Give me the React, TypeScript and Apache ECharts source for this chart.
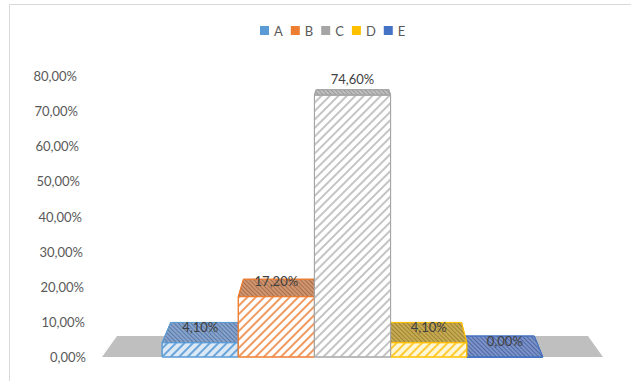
import React, { useEffect, useRef } from "react";
import * as echarts from "echarts";

const categories = ["A", "B", "C", "D", "E"];
const values = [0.041, 0.172, 0.746, 0.041, 0.0];
const yMin = 0;
const yMax = 0.8;
const yInterval = 0.1;

const baseColors = ["#5B9BD5", "#ED7D31", "#A5A5A5", "#FFC000", "#4472C4"];
const frontFills = ["#dbe8f6", "#ffffff", "#ffffff", "#fff6d6", "#ffffff"];
const frontStripes = ["#6aa5da", "#f09a60", "#c4c4c4", "#ffcb33", "#4472C4"];
const topFills = ["#86a3cc", "#d09570", "#c0c0c0", "#c8aa52", "#7b93c9"];
const topStripes = ["#5b7aa6", "#a8704a", "#9a9a9a", "#9c8534", "#4f67a3"];
const seriesZ = [2, 3, 4, 3, 2];

const fmtPct = (v: number) => (v * 100).toFixed(2).replace(".", ",") + "%";

export default function App() {
  const ref = useRef<HTMLDivElement>(null);
  useEffect(() => {
    document.body.style.margin = "0";
    if (!ref.current) return;
    const chart = echarts.init(ref.current, undefined, { renderer: "svg" });
    const N = categories.length;
    const font = "Lato, 'Noto Sans', sans-serif";

    const rich: Record<string, any> = {};
    for (let i = 0; i <= 8; i++) {
      rich["t" + i] = {
        padding: [0, Math.round(i * 1.1), 0, 0],
        fontSize: 13,
        color: "#595959",
        fontFamily: font,
      };
    }

    const geo = (params: any) => {
      const cs = params.coordSys;
      return { vx: cs.x + cs.width / 2, vy: cs.y - 69, kv: 0.06 };
    };

    const barSeries = categories.map((name, i) => ({
      type: "custom",
      name,
      z: seriesZ[i],
      itemStyle: { color: baseColors[i] },
      data: [[0, values[i]]],
      renderItem: (params: any, api: any) => {
        const { vx, vy, kv } = geo(params);
        const kh = 0.045;
        const c0 = api.coord([0, 0]);
        const band = api.size([1, 0])[0];
        const groupW = band * 0.76;
        const barW = groupW / N;
        const x0 = c0[0] - groupW / 2 + i * barW;
        const x1 = x0 + barW;
        const yB = c0[1];
        const yT = api.coord([0, api.value(1)])[1];
        const yBack = yT - kv * (yT - vy);
        const bx0 = x0 + kh * (vx - x0);
        const bx1 = x1 + kh * (vx - x1);
        return {
          type: "group",
          children: [
            {
              type: "rect",
              shape: { x: x0, y: yT, width: barW, height: yB - yT },
              style: {
                fill: frontFills[i],
                stroke: baseColors[i],
                lineWidth: 1,
                decal: {
                  symbol: "rect",
                  symbolSize: 1,
                  dashArrayX: [1, 0],
                  dashArrayY: [1.6, 3.6],
                  rotation: -Math.PI / 4,
                  color: frontStripes[i],
                },
              },
            },
            {
              type: "polygon",
              shape: {
                points: [
                  [x0, yT],
                  [x1, yT],
                  [bx1, yBack],
                  [bx0, yBack],
                ],
              },
              style: {
                fill: topFills[i],
                stroke: baseColors[i],
                lineWidth: 1,
                decal: {
                  symbol: "rect",
                  symbolSize: 1,
                  dashArrayX: [1, 0],
                  dashArrayY: [1, 2],
                  rotation: Math.PI / 4,
                  color: topStripes[i],
                },
              },
            },
            {
              type: "text",
              z2: 100,
              x: (x0 + x1) / 2,
              y: yT - 16,
              style: {
                text: fmtPct(api.value(1)),
                fill: "#404040",
                fontSize: 13,
                fontFamily: font,
                align: "center",
                verticalAlign: "middle",
              },
            },
          ],
        };
      },
    }));

    const floorSeries = {
      type: "custom",
      name: "floor",
      z: 1,
      silent: true,
      data: [[0, 0]],
      renderItem: (params: any, api: any) => {
        const cs = params.coordSys;
        const { vx, vy, kv } = geo(params);
        const kf = 0.06;
        const yB = api.coord([0, 0])[1];
        const xL = cs.x;
        const xR = cs.x + cs.width;
        const yBack = yB - kv * (yB - vy);
        return {
          type: "polygon",
          shape: {
            points: [
              [xL, yB],
              [xR, yB],
              [xR + kf * (vx - xR), yBack],
              [xL + kf * (vx - xL), yBack],
            ],
          },
          style: { fill: "#bfbfbf" },
        };
      },
    };

    chart.setOption({
      animation: false,
      backgroundColor: "#ffffff",
      graphic: [
        {
          type: "rect",
          shape: { x: 9.5, y: 4.5, width: 700, height: 500 },
          style: { fill: "none", stroke: "#d9d9d9", lineWidth: 1 },
          silent: true,
        },
      ],
      legend: {
        data: categories,
        left: 255,
        top: 19,
        icon: "rect",
        itemWidth: 9,
        itemHeight: 9,
        itemGap: 8,
        textStyle: { fontSize: 13, color: "#595959", fontFamily: font },
      },
      grid: { left: 102, right: 28, top: 76, bottom: 24, containLabel: false },
      xAxis: {
        type: "category",
        data: [""],
        show: false,
        boundaryGap: true,
      },
      yAxis: {
        type: "value",
        min: yMin,
        max: yMax,
        interval: yInterval,
        axisLine: { show: false },
        axisTick: { show: false },
        splitLine: { show: false },
        axisLabel: {
          margin: 16,
          formatter: (v: number) => `{t${Math.round(v * 10)}|${fmtPct(v)}}`,
          rich,
        },
      },
      series: [floorSeries, ...barSeries],
    });
    return () => chart.dispose();
  }, []);
  return <div ref={ref} style={{ width: 631, height: 381 }} />;
}
